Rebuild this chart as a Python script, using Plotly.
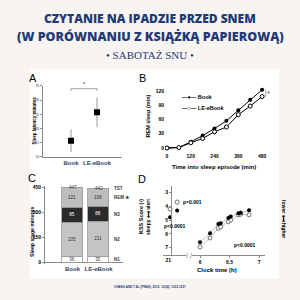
import plotly.graph_objects as go

W = H = 300
def px(x): return x / W
def py(y): return 1 - y / H

# ---------------- data ----------------
a_groups = ["Book", "LE-eBook"]
a_latency = [15.7, 25.7]
a_err = [4.0, 5.3]

b_time = [0, 60, 120, 180, 240, 300, 360, 420, 480]
b_book = [0, 1, 13, 26, 41, 57, 79, 101, 122]
b_ebook = [0, 1, 11, 20, 34, 44, 70, 88, 108]

c_groups = ["Book", "LE-eBook"]
c_n1 = [36, 35]
c_n2 = [205, 211]
c_n3 = [85, 88]
c_rem = [121, 108]
c_tst = [447, 442]
c_stage_labels = ["N1", "N2", "N3", "REM \u2605", "TST"]

d_eve_time = [21.05, 21.25]
d_eve_book = [4.8, 4.3]
d_eve_ebook = [4.2, 3.7]
d_morn_time = [6.0, 6.17, 6.31, 6.35, 6.48, 6.52, 6.65, 6.69, 6.83]
d_morn_book = [6.6, 5.95, 5.29, 5.24, 4.86, 4.74, 4.5, 4.48, 4.29]
d_morn_ebook = [6.95, 6.29, 5.6, 5.5, 5.12, 5.0, 4.62, 4.57, 4.62]
d_err = 0.2

NAVY = "#1f3a78"
BG = "#f8f4f2"
AX = "#8a8a8a"
FONT = "Liberation Sans"

fig = go.Figure()

# ---------------- Panel A ----------------
for i in range(2):
    fig.add_trace(go.Scatter(
        x=[i + 1], y=[a_latency[i]], mode="markers",
        marker=dict(symbol="square", size=6, color="black"),
        error_y=dict(type="data", array=[a_err[i]], color="#999", thickness=1, width=0),
        xaxis="x", yaxis="y", showlegend=False))

# ---------------- Panel B ----------------
fig.add_trace(go.Scatter(x=b_time, y=b_book, mode="lines+markers",
    line=dict(color="black", width=1), marker=dict(symbol="circle", size=4, color="black"),
    xaxis="x2", yaxis="y2", showlegend=False))
fig.add_trace(go.Scatter(x=b_time, y=b_ebook, mode="lines+markers",
    line=dict(color="black", width=1),
    marker=dict(symbol="circle", size=4, color="white", line=dict(color="black", width=1)),
    xaxis="x2", yaxis="y2", showlegend=False))

# ---------------- Panel C ----------------
stack = [(c_n1, "white"), (c_n2, "#c4c4c4"), (c_n3, "#2b2b2b"), (c_rem, "#bdbdbd")]
for vals, col in stack:
    fig.add_trace(go.Bar(x=[1, 2], y=vals, width=0.8, marker=dict(color=col, line=dict(color="#9a9a9a", width=0.8)),
        text=[str(v) for v in vals], textposition="inside", insidetextanchor="middle",
        textfont=dict(size=4.5, color="white" if col == "#2b2b2b" else "#333", family=FONT),
        xaxis="x3", yaxis="y3", showlegend=False, cliponaxis=False))

# ---------------- Panel D ----------------
for t, yb, ye, xa in [(d_eve_time, d_eve_book, d_eve_ebook, "x4"), (d_morn_time, d_morn_book, d_morn_ebook, "x5")]:
    mode = "markers" if xa == "x4" else "lines+markers"
    fig.add_trace(go.Scatter(x=t, y=ye, mode=mode, line=dict(color="#b0b0b0", width=0.8),
        marker=dict(symbol="circle", size=4, color="white", line=dict(color="#555", width=0.8)),
        error_y=dict(type="constant", value=d_err, color="#bbb", thickness=0.8, width=0),
        xaxis=xa, yaxis="y4", showlegend=False))
    fig.add_trace(go.Scatter(x=t, y=yb, mode=mode, line=dict(color="#b0b0b0", width=0.8),
        marker=dict(symbol="circle", size=4, color="black"),
        error_y=dict(type="constant", value=d_err, color="#bbb", thickness=0.8, width=0),
        xaxis=xa, yaxis="y4", showlegend=False))

small = dict(family=FONT, size=5, color="black", weight="bold")
axline = dict(showline=True, linecolor=AX, linewidth=1, showgrid=False, zeroline=False)

fig.update_layout(
    width=W, height=H, margin=dict(l=0, r=0, t=0, b=0),
    paper_bgcolor=BG, plot_bgcolor="rgba(0,0,0,0)",
    uniformtext=dict(minsize=4, mode="show"),
    barmode="stack", bargap=0,
    xaxis=dict(domain=[px(43), px(122)], range=[-0.077, 2.96], anchor="y",
               tickvals=[1, 2], ticktext=a_groups, ticks="", tickfont=dict(family=FONT, size=6, weight="bold"),
               **axline),
    yaxis=dict(domain=[py(157), py(85)], range=[10, 35], anchor="x", tickvals=[10, 15, 20, 25, 30, 35],
               ticks="outside", ticklen=2, tickcolor=AX, tickfont=dict(family=FONT, size=3.5), **axline),
    xaxis2=dict(domain=[px(165), px(270)], range=[-10, 520], anchor="y2", tickvals=[0, 120, 240, 360, 480],
                ticks="", tickfont=small, showline=False, showgrid=False, zeroline=False),
    yaxis2=dict(domain=[py(152), py(80)], range=[-8.3, 140.7], anchor="x2", tickvals=[0, 30, 60, 90, 120],
                ticks="", tickfont=small, showline=False, showgrid=False, zeroline=False),
    xaxis3=dict(domain=[px(45), px(123)], range=[-0.058, 2.94], anchor="y3", tickvals=[1, 2], ticktext=c_groups,
                ticks="", tickfont=dict(family=FONT, size=6, weight="bold"), showline=False, showgrid=False, zeroline=False),
    yaxis3=dict(domain=[py(265.7), py(186.3)], range=[-10, 460], anchor="x3", tickvals=[0, 150, 300, 450],
                ticks="outside", ticklen=2, tickcolor=AX, tickfont=small, showline=True, linecolor=AX, linewidth=1,
                showgrid=False, zeroline=True, zerolinecolor=AX, zerolinewidth=1),
    xaxis4=dict(domain=[px(163), px(186)], range=[20.85, 21.5], anchor="y4", tickvals=[21], ticks="",
                tickfont=small, showline=True, linecolor=AX, linewidth=1, showgrid=False, zeroline=False),
    xaxis5=dict(domain=[px(192), px(265)], range=[5.864, 7.10], anchor="y4", tickvals=[6, 6.5, 7], ticks="outside",
                ticklen=2, tickcolor=AX, tickfont=small, showline=True, linecolor=AX, linewidth=1, showgrid=False, zeroline=False),
    yaxis4=dict(domain=[py(256), py(186)], range=[7.5, 2.5], anchor="free", position=px(171), tickvals=[3, 4, 5, 6, 7],
                ticks="outside", ticklen=2, tickcolor=AX, tickfont=small, **axline),
    yaxis5=dict(domain=[py(256), py(186)], range=[7.5, 2.5], anchor="free", position=px(265), overlaying="y4", side="right",
                tickvals=[3, 4, 5, 6, 7], ticks="outside", ticklen=2, tickcolor=AX, tickfont=small, **axline),
)

# white panel
fig.add_shape(type="rect", xref="paper", yref="paper", x0=px(30), x1=px(279), y0=py(280), y1=py(68),
              fillcolor="white", line=dict(width=0), layer="below")

ann = []
def A(text, x, y, size=5, color="black", weight="bold", angle=0, family=FONT, xanchor="center", yanchor="middle", **kw):
    ann.append(dict(text=text, x=px(x), y=py(y), xref="paper", yref="paper", showarrow=False, textangle=angle,
                    font=dict(family=family, size=size, color=color, weight=weight), xanchor=xanchor, yanchor=yanchor, **kw))

# titles
A("CZYTANIE NA IPADZIE PRZED SNEM", 150, 17, size=12, color=NAVY, weight=800, family="Open Sans")
A("(W PORÓWNANIU Z KSIĄŻKĄ PAPIEROWĄ)", 150, 35, size=12.5, color=NAVY, weight=800, family="Open Sans")
A("\u2022 SABOTAŻ SNU \u2022", 150, 54, size=11, color=NAVY, weight="normal", family="Liberation Serif")
A("CHANG AND T AL (PNAS), 2015; 112(4): 1232-1237", 150, 289, size=3, color=NAVY, weight="bold")

# panel letters
for L, x, y in [("A", 33, 77), ("B", 142, 77), ("C", 32, 178), ("D", 142, 179)]:
    A(L, x, y, size=11, weight="normal")

# axis titles
A("Sleep latency minutes", 34, 120, size=4.5, angle=-90)
A("REM sleep (min)", 148, 116, size=5.5, angle=-90)
A("Time into sleep episode (min)", 214, 167, size=6)
A("Sleep stage minutes", 32, 233, size=5.2, angle=-90)
A("KSS Score (\u2022)", 141, 218, size=5.5, angle=-90)
A("sleepy \u27f7 alert", 148, 218, size=5, angle=-90)
A("lower \u27f7 higher", 284, 220, size=5, angle=90)
A("Clock time (h)", 217, 272, size=6)

# panel A bracket
fig.add_shape(type="path", xref="x", yref="y", path="M 1,33.2 L 1,34 L 2,34 L 2,33.2", line=dict(color="#888", width=0.8))
ann.append(dict(text="*", x=1.5, y=34, xref="x", yref="y", showarrow=False, yanchor="bottom", font=dict(size=6, family=FONT)))

# panel B legend and bracket
A("\u2014\u25cf\u2014 Book", 180, 96, size=5.5, xanchor="left")
A("\u2014\u25cb\u2014 LE-eBook", 180, 107, size=5.5, xanchor="left")
fig.add_shape(type="line", xref="x2", yref="y2", x0=b_time[-1] + 18, x1=b_time[-1] + 18, y0=b_ebook[-1], y1=b_book[-1],
              line=dict(color="#888", width=0.8))
ann.append(dict(text="*", x=b_time[-1] + 32, y=(b_book[-1] + b_ebook[-1]) / 2, xref="x2", yref="y2", showarrow=False,
                font=dict(size=7, family=FONT)))

# panel C labels
for i in range(2):
    ann.append(dict(text=str(c_tst[i]), x=i + 1, y=c_tst[i], xref="x3", yref="y3", showarrow=False, yanchor="middle",
                    font=dict(size=4.5, family=FONT, color="#333")))
lab_y = [c_n1[1] / 2, c_n1[1] + c_n2[1] / 2, c_n1[1] + c_n2[1] + c_n3[1] / 2,
         c_n1[1] + c_n2[1] + c_n3[1] + c_rem[1] / 2, c_tst[1]]
for t, yv in zip(c_stage_labels, lab_y):
    ann.append(dict(text=t, x=2.5, y=yv, xref="x3", yref="y3", showarrow=False, xanchor="left",
                    font=dict(size=4.5, family=FONT, color="#333", weight="bold")))

# panel D annotations
A("p=0.001", 181, 203, size=5, xanchor="left")
A("p<0.0001", 162, 227, size=5, xanchor="left")
A("p<0.0001", 232, 246, size=5, xanchor="left")
A("/ /", 189, 257, size=7, weight="normal", color="#666")

fig.update_layout(annotations=ann)
fig.write_html("out.html")
